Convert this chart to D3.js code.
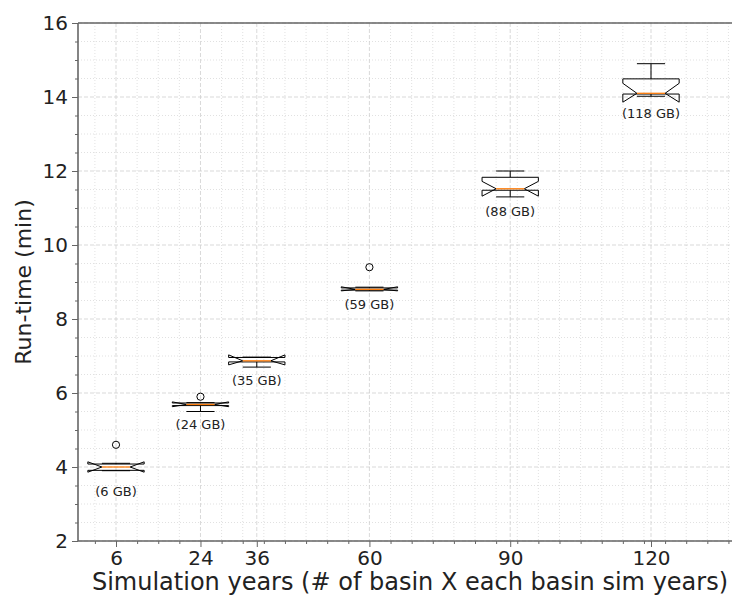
<!DOCTYPE html>
<html>
<head>
<meta charset="utf-8">
<script src="https://cdn.jsdelivr.net/npm/d3@7"></script>
<style>
  body { margin: 0; background: #fff; }
  text { font-family: "DejaVu Sans", sans-serif; fill: #222; }
</style>
</head>
<body>
<script>
// simulation years (box positions)
var years = [6, 24, 36, 60, 90, 120];
var sizeLabels = ["(6 GB)", "(24 GB)", "(35 GB)", "(59 GB)", "(88 GB)", "(118 GB)"];

// box stats (minutes)
var whiskerLo = [3.90, 5.50, 6.70, 8.76, 11.30, 14.02];
var q1 = [3.91, 5.66, 6.84, 8.78, 11.48, 14.08];
var median = [4.00, 5.69, 6.87, 8.80, 11.52, 14.10];
var q3 = [4.08, 5.73, 6.96, 8.84, 11.83, 14.49];
var whiskerHi = [4.10, 5.74, 6.97, 8.86, 12.00, 14.90];
var notchLo = [3.86, 5.63, 6.76, 8.76, 11.32, 13.86];
var notchHi = [4.14, 5.76, 7.03, 8.87, 11.72, 14.37];
var fliers = [[4.6], [5.9], [], [9.4], [], []];
var labelVal = [3.35, 5.14, 6.35, 8.38, 10.92, 13.56];

var yTicks = [2, 4, 6, 8, 10, 12, 14, 16];
var boxWidth = 12; // in x data units

var W = 732, H = 597;

var svg = d3.select("body").append("svg")
    .attr("width", W)
    .attr("height", H);

// scales
var x = d3.scaleLinear().domain([6, 120]).range([116, 651]);
var y = d3.scaleLinear().domain([2, 16]).range([541, 23]);

var plotLeft = 78, plotRight = 740, plotTop = y(16), plotBottom = y(2);
var xMin = x.invert(plotLeft), xMax = x.invert(plotRight);

// minor ticks (matplotlib AutoMinorLocator style)
var xMinor = [];
for (var v = 6 - 4.5 * Math.floor((6 - xMin) / 4.5); v <= xMax; v += 4.5) {
    if (years.indexOf(+v.toFixed(2)) < 0) xMinor.push(v);
}
var yMinor = d3.range(2, 16.01, 0.5).filter(function (d) { return d % 2 !== 0; });

// grid
var grid = svg.append("g").attr("class", "grid");
grid.selectAll(".xminor").data(xMinor).enter().append("line")
    .attr("x1", function (d) { return x(d); }).attr("x2", function (d) { return x(d); })
    .attr("y1", plotTop).attr("y2", plotBottom)
    .attr("stroke", "#d9d9d9").attr("stroke-width", 0.8).attr("stroke-dasharray", "1,2");
grid.selectAll(".yminor").data(yMinor).enter().append("line")
    .attr("y1", function (d) { return y(d); }).attr("y2", function (d) { return y(d); })
    .attr("x1", plotLeft).attr("x2", plotRight)
    .attr("stroke", "#d9d9d9").attr("stroke-width", 0.8).attr("stroke-dasharray", "1,2");
grid.selectAll(".xmajor").data(years).enter().append("line")
    .attr("x1", function (d) { return x(d); }).attr("x2", function (d) { return x(d); })
    .attr("y1", plotTop).attr("y2", plotBottom)
    .attr("stroke", "#cfcfcf").attr("stroke-width", 0.8).attr("stroke-dasharray", "4,2");
grid.selectAll(".ymajor").data(yTicks).enter().append("line")
    .attr("y1", function (d) { return y(d); }).attr("y2", function (d) { return y(d); })
    .attr("x1", plotLeft).attr("x2", plotRight)
    .attr("stroke", "#cfcfcf").attr("stroke-width", 0.8).attr("stroke-dasharray", "4,2");

// boxes
var boxes = svg.selectAll(".box")
    .data(years)
    .enter()
    .append("g")
    .attr("class", "box");

boxes.each(function (pos, i) {
    var g = d3.select(this);
    var l = x(pos - boxWidth / 2), r = x(pos + boxWidth / 2);
    var cl = x(pos - boxWidth / 4), cr = x(pos + boxWidth / 4);

    // whiskers
    g.append("line").attr("x1", x(pos)).attr("x2", x(pos))
        .attr("y1", y(q1[i])).attr("y2", y(whiskerLo[i]))
        .attr("stroke", "#000").attr("stroke-width", 1);
    g.append("line").attr("x1", x(pos)).attr("x2", x(pos))
        .attr("y1", y(q3[i])).attr("y2", y(whiskerHi[i]))
        .attr("stroke", "#000").attr("stroke-width", 1);
    // caps (half the box width)
    [whiskerLo[i], whiskerHi[i]].forEach(function (c) {
        g.append("line").attr("x1", cl).attr("x2", cr)
            .attr("y1", y(c)).attr("y2", y(c))
            .attr("stroke", "#000").attr("stroke-width", 1);
    });

    // notched box outline
    var pts = [
        [l, y(q1[i])], [r, y(q1[i])], [r, y(notchLo[i])], [cr, y(median[i])],
        [r, y(notchHi[i])], [r, y(q3[i])], [l, y(q3[i])], [l, y(notchHi[i])],
        [cl, y(median[i])], [l, y(notchLo[i])]
    ];
    g.append("path")
        .attr("d", "M" + pts.join("L") + "Z")
        .attr("fill", "none")
        .attr("stroke", "#000")
        .attr("stroke-width", 1);

    // median
    g.append("line").attr("x1", cl).attr("x2", cr)
        .attr("y1", y(median[i])).attr("y2", y(median[i]))
        .attr("stroke", "#ff7f0e").attr("stroke-width", 1.3);

    // fliers
    g.selectAll("circle").data(fliers[i]).enter().append("circle")
        .attr("cx", x(pos)).attr("cy", function (d) { return y(d); })
        .attr("r", 3.6)
        .attr("fill", "none").attr("stroke", "#000").attr("stroke-width", 1);

    // size label
    g.append("text")
        .attr("x", x(pos))
        .attr("y", y(labelVal[i]))
        .attr("dy", "0.35em")
        .attr("text-anchor", "middle")
        .style("font-size", "13px")
        .text(sizeLabels[i]);
});

// axes
var axisColor = "#666";
var xAxis = svg.append("g")
    .attr("transform", "translate(0," + plotBottom + ")")
    .call(d3.axisBottom(x).tickValues(years).tickSize(6).tickPadding(4));
var xAxisMinor = svg.append("g")
    .attr("transform", "translate(0," + plotBottom + ")")
    .call(d3.axisBottom(x).tickValues(xMinor).tickSize(3).tickFormat(""));
var yAxis = svg.append("g")
    .attr("transform", "translate(" + plotLeft + ",0)")
    .call(d3.axisLeft(y).tickValues(yTicks).tickSize(6).tickPadding(4));
var yAxisMinor = svg.append("g")
    .attr("transform", "translate(" + plotLeft + ",0)")
    .call(d3.axisLeft(y).tickValues(yMinor).tickSize(3).tickFormat(""));

[xAxis, xAxisMinor, yAxis, yAxisMinor].forEach(function (a) {
    a.select(".domain").remove();
    a.selectAll(".tick line").attr("stroke", axisColor).attr("stroke-width", 1);
    a.selectAll("text").style("font-size", "20px").style("font-family", "DejaVu Sans").attr("fill", "#222");
});

// spines
svg.append("line").attr("x1", plotLeft).attr("x2", plotRight).attr("y1", plotBottom).attr("y2", plotBottom)
    .attr("stroke", axisColor).attr("stroke-width", 1.6);
svg.append("line").attr("x1", plotLeft).attr("x2", plotRight).attr("y1", plotTop).attr("y2", plotTop)
    .attr("stroke", axisColor).attr("stroke-width", 1.6);
svg.append("line").attr("x1", plotLeft).attr("x2", plotLeft).attr("y1", plotTop).attr("y2", plotBottom)
    .attr("stroke", axisColor).attr("stroke-width", 1.6);

// axis titles
svg.append("text")
    .attr("x", 410)
    .attr("y", 590)
    .attr("text-anchor", "middle")
    .style("font-size", "24px")
    .text("Simulation years (# of basin X each basin sim years)");

svg.append("text")
    .attr("transform", "translate(31," + ((plotTop + plotBottom) / 2) + ") rotate(-90)")
    .attr("text-anchor", "middle")
    .style("font-size", "22px")
    .text("Run-time (min)");
</script>
</body>
</html>
